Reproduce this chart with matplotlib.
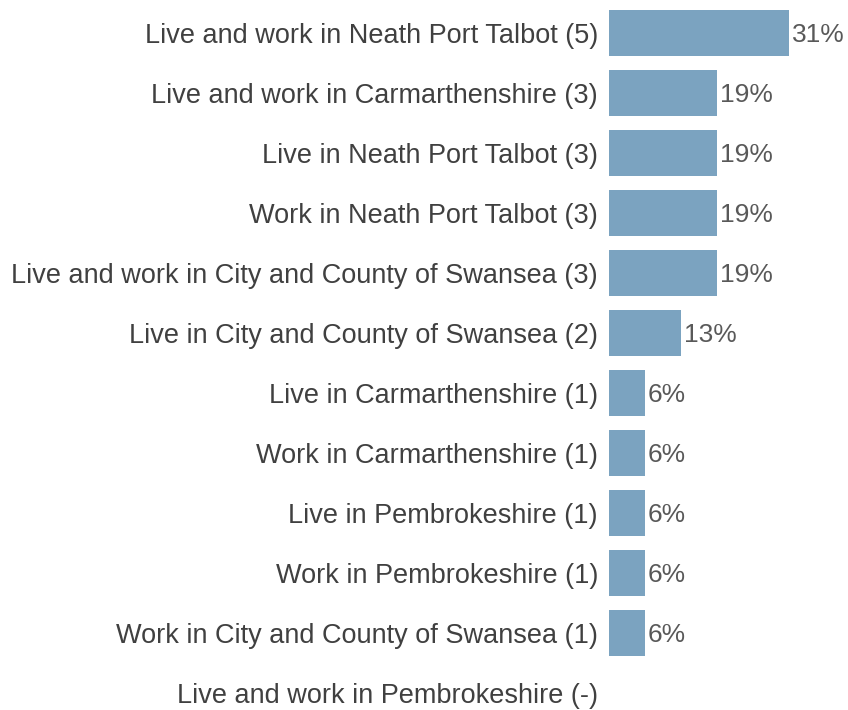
import matplotlib.pyplot as plt

labels = [
    "Live and work in Neath Port Talbot (5)",
    "Live and work in Carmarthenshire (3)",
    "Live in Neath Port Talbot (3)",
    "Work in Neath Port Talbot (3)",
    "Live and work in City and County of Swansea (3)",
    "Live in City and County of Swansea (2)",
    "Live in Carmarthenshire (1)",
    "Work in Carmarthenshire (1)",
    "Live in Pembrokeshire (1)",
    "Work in Pembrokeshire (1)",
    "Work in City and County of Swansea (1)",
    "Live and work in Pembrokeshire (-)",
]
values = [31.25, 18.75, 18.75, 18.75, 18.75, 12.5, 6.25, 6.25, 6.25, 6.25, 6.25, 0]
value_text = ["31%", "19%", "19%", "19%", "19%", "13%", "6%", "6%", "6%", "6%", "6%", ""]

plt.rcParams['font.family'] = ['Liberation Sans', 'DejaVu Sans']

fig = plt.figure(figsize=(8.48, 7.10), dpi=100)
ax = fig.add_axes([609 / 848, 0, 239 / 848, 1])

y = list(range(len(labels)))
ax.barh(y, values, height=0.78, color="#7BA3C0")
for yi, v, t in zip(y, values, value_text):
    ax.text(v + 0.5, yi + 0.03, t, va="center", ha="left", fontsize=19, color="#595959")

ax.set_xlim(0, 239 / 5.76)
ax.set_ylim(11.283, -0.55)
ax.set_yticks(y)
ax.set_yticklabels(labels, fontsize=19.5, color="#404040")
ax.tick_params(axis="y", length=0, pad=8)
ax.set_xticks([])
for s in ax.spines.values():
    s.set_visible(False)

fig.savefig("out.png", dpi=100)
